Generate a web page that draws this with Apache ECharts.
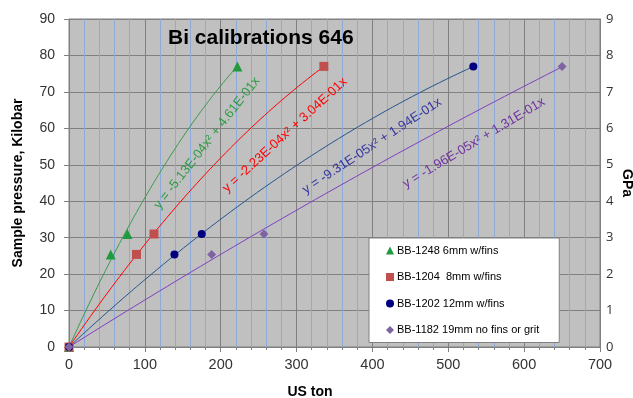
<!DOCTYPE html>
<html>
<head>
<meta charset="utf-8">
<script src="https://cdn.jsdelivr.net/npm/echarts@6/dist/echarts.min.js"></script>
<style>
  html, body { margin: 0; padding: 0; background: #ffffff; }
  #chart { width: 633px; height: 398px; }
</style>
</head>
<body>
<div id="chart"></div>
<script>
// Measured calibration points: press load (US ton) vs sample pressure (kbar)
const seriesNames = [
  'BB-1248 6mm w/fins',
  'BB-1204  8mm w/fins',
  'BB-1202 12mm w/fins',
  'BB-1182 19mm no fins or grit'
];
const tonBB1248 = [0, 55, 77, 222];
const kbarBB1248 = [0, 25.4, 31, 77];
const tonBB1204 = [0, 89, 112, 336];
const kbarBB1204 = [0, 25.4, 31, 77];
const tonBB1202 = [0, 139, 175, 533];
const kbarBB1202 = [0, 25.4, 31, 77];
const tonBB1182 = [0, 188, 257, 650];
const kbarBB1182 = [0, 25.4, 31, 77];

// Quadratic fit coefficients (y = a*x^2 + b*x), as printed on each fit line
const fitA = [-5.13e-4, -2.23e-4, -9.31e-5, -1.96e-5];
const fitB = [4.61e-1, 3.04e-1, 1.94e-1, 1.31e-1];

const xTicks = [0, 100, 200, 300, 400, 500, 600, 700];
const yTicksKbar = [0, 10, 20, 30, 40, 50, 60, 70, 80, 90];
const yTicksGPa = [0, 1, 2, 3, 4, 5, 6, 7, 8, 9];

const tons = [tonBB1248, tonBB1204, tonBB1202, tonBB1182];
const kbars = [kbarBB1248, kbarBB1204, kbarBB1202, kbarBB1182];

const markerColors = ['#1f9a3c', '#c0504d', '#000080', '#8064a2'];
const markerShapes = ['triangle', 'rect', 'circle', 'diamond'];
const markerSizes = [10, 9, 8, 9];
const lineColors = ['#3a9a4c', '#ff0000', '#24558c', '#7f3fbf'];
const eqColors = ['#2e9b44', '#ff0000', '#3434a0', '#7030a0'];

function sci(v) {
  const s = v.toExponential(2).toUpperCase();      // e.g. "-5.13E-4"
  return s.replace(/E([+-])(\d)$/, 'E$10$2');        // -> "-5.13E-04"
}
function eqText(i) {
  return 'y = ' + sci(fitA[i]) + 'x\u00B2 + ' + sci(fitB[i]) + 'x';
}
function fitCurve(i) {
  const xs = tons[i];
  const xMax = xs[xs.length - 1];
  const pts = [];
  const n = 60;
  for (let k = 0; k <= n; k++) {
    const x = xMax * k / n;
    pts.push([x, fitA[i] * x * x + fitB[i] * x]);
  }
  return pts;
}

const font = '"Liberation Sans", Arial, sans-serif';
const series = [];
for (let i = 0; i < 4; i++) {
  series.push({
    name: seriesNames[i] + ' fit',
    type: 'line',
    data: fitCurve(i),
    showSymbol: false,
    symbol: 'none',
    silent: true,
    lineStyle: { color: lineColors[i], width: 1 },
    z: 2
  });
}
for (let i = 0; i < 4; i++) {
  series.push({
    name: seriesNames[i],
    type: 'scatter',
    data: tons[i].map((t, k) => [t, kbars[i][k]]),
    symbol: markerShapes[i],
    symbolSize: markerSizes[i],
    itemStyle: { color: markerColors[i], opacity: 1 },
    z: 3
  });
}

// Rotated fit equations placed along each curve
const eqPlacement = [
  { x: 207, y: 143, angle: 52 },
  { x: 285, y: 135, angle: 42.4 },
  { x: 372, y: 146, angle: 33.4 },
  { x: 474, y: 143, angle: 31 }
];
const eqGraphics = eqPlacement.map((p, i) => ({
  type: 'text',
  x: p.x,
  y: p.y,
  rotation: p.angle * Math.PI / 180,
  z: 10,
  style: {
    text: eqText(i),
    fill: eqColors[i],
    font: '13px ' + font,
    align: 'center',
    verticalAlign: 'middle'
  }
}));

const chart = echarts.init(document.getElementById('chart'), null, { renderer: 'canvas' });
chart.setOption({
  animation: false,
  backgroundColor: '#ffffff',
  title: {
    text: 'Bi calibrations 646',
    left: 168,
    top: 28,
    padding: 0,
    textStyle: { fontFamily: font, fontSize: 21, fontWeight: 'bold', color: '#000' }
  },
  grid: {
    left: 69, right: 33, top: 19, bottom: 51,
    outerBoundsMode: 'none',
    containLabel: false,
    show: true,
    backgroundColor: '#c0c0c0',
    borderColor: '#808080',
    borderWidth: 1
  },
  legend: {
    data: seriesNames,
    orient: 'vertical',
    left: 369,
    top: 238,
    backgroundColor: '#ffffff',
    borderColor: '#808080',
    borderWidth: 1,
    borderRadius: 0,
    padding: [7, 20, 7, 17],
    itemGap: 15.5,
    itemWidth: 8,
    itemHeight: 8,
    itemStyle: { opacity: 1 },
    textStyle: { fontFamily: font, fontSize: 11, color: '#000', padding: [0, 0, 0, -2] }
  },
  xAxis: {
    type: 'value',
    min: xTicks[0],
    max: xTicks[xTicks.length - 1],
    interval: 100,
    name: 'US ton',
    nameLocation: 'middle',
    nameGap: 38,
    nameTextStyle: { fontFamily: font, fontSize: 14, fontWeight: 'bold', color: '#000', padding: [0, 49, 0, 0] },
    axisLine: { show: true, lineStyle: { color: '#808080', width: 1 } },
    axisTick: { show: true, inside: false, length: 5, lineStyle: { color: '#808080' } },
    minorTick: { show: true, splitNumber: 5, length: 3, lineStyle: { color: '#808080' } },
    axisLabel: { margin: 10, fontFamily: font, fontSize: 14.5, color: '#333' },
    splitLine: { show: true, lineStyle: { color: '#808080', width: 1 } },
    minorSplitLine: { show: true, lineStyle: { color: '#8eaad6', width: 1 } }
  },
  yAxis: [
    {
      type: 'value',
      min: yTicksKbar[0],
      max: yTicksKbar[yTicksKbar.length - 1],
      interval: 10,
      name: 'Sample pressure, Kilobar',
      nameLocation: 'middle',
      nameGap: 44,
      nameTextStyle: { fontFamily: font, fontSize: 14, fontWeight: 'bold', color: '#000' },
      axisLine: { show: true, lineStyle: { color: '#808080', width: 1 } },
      axisTick: { show: true, length: 5, lineStyle: { color: '#808080' } },
      axisLabel: { margin: 14, fontFamily: font, fontSize: 14, color: '#333' },
      splitLine: { show: true, lineStyle: { color: '#808080', width: 1 } }
    },
    {
      type: 'value',
      position: 'right',
      min: yTicksGPa[0],
      max: yTicksGPa[yTicksGPa.length - 1],
      interval: 1,
      name: 'GPa',
      nameLocation: 'middle',
      nameGap: 20,
      nameRotate: -90,
      nameMoveOverlap: false,
      nameTextStyle: { fontFamily: font, fontSize: 14, fontWeight: 'bold', color: '#000' },
      axisLine: { show: true, lineStyle: { color: '#808080', width: 1 } },
      axisTick: { show: false },
      axisLabel: { margin: 6, fontFamily: '"Open Sans", sans-serif', fontSize: 13, color: '#333' },
      splitLine: { show: false }
    }
  ],
  series: series,
  graphic: eqGraphics
});
</script>
</body>
</html>
